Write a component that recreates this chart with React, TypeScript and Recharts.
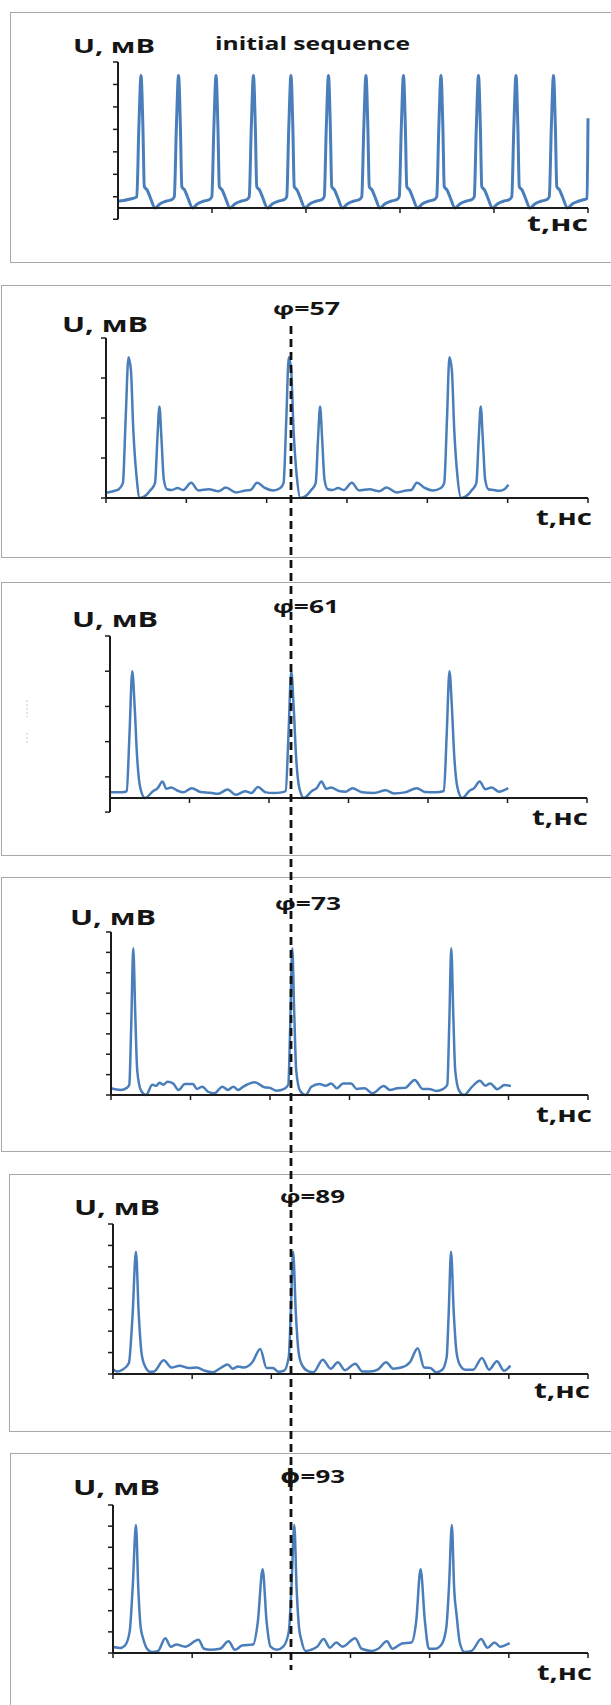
import React from 'react';
import { Line, LineChart, ReferenceLine, XAxis, YAxis } from 'recharts';

// initial sequence: t in axis units (5 ticks across), U in tick units
const initT = [
  0, 0.06, 0.13, 0.17,
  0.2, 0.222, 0.245, 0.265, 0.28, 0.31, 0.34, 0.395, 0.445, 0.51, 0.575,
  0.599, 0.621, 0.644, 0.664, 0.679, 0.709, 0.739, 0.794, 0.844, 0.909, 0.974,
  0.998, 1.02, 1.043, 1.063, 1.078, 1.108, 1.138, 1.193, 1.243, 1.308, 1.373,
  1.396, 1.418, 1.441, 1.461, 1.476, 1.506, 1.536, 1.591, 1.641, 1.706, 1.771,
  1.795, 1.817, 1.84, 1.86, 1.875, 1.905, 1.935, 1.99, 2.04, 2.105, 2.17,
  2.194, 2.216, 2.239, 2.259, 2.274, 2.304, 2.334, 2.389, 2.439, 2.504, 2.569,
  2.593, 2.615, 2.638, 2.658, 2.673, 2.703, 2.733, 2.788, 2.838, 2.903, 2.968,
  2.992, 3.014, 3.037, 3.057, 3.072, 3.102, 3.132, 3.187, 3.237, 3.302, 3.367,
  3.391, 3.413, 3.436, 3.456, 3.471, 3.501, 3.531, 3.586, 3.636, 3.701, 3.766,
  3.79, 3.812, 3.835, 3.855, 3.87, 3.9, 3.93, 3.985, 4.035, 4.1, 4.165,
  4.189, 4.211, 4.234, 4.254, 4.269, 4.299, 4.329, 4.384, 4.434, 4.499, 4.564,
  4.588, 4.61, 4.633, 4.653, 4.668, 4.698, 4.728, 4.783, 4.833, 4.898, 4.963,
  4.99, 5.0,
];
const initU = [
  0.3, 0.33, 0.4, 0.44,
  0.5, 3.6, 5.9, 3.6, 0.95, 0.8, 0.5, 0, 0.18, 0.3, 0.38,
  0.5, 3.6, 5.9, 3.6, 0.95, 0.8, 0.5, 0, 0.18, 0.3, 0.38,
  0.5, 3.6, 5.9, 3.6, 0.95, 0.8, 0.5, 0, 0.18, 0.3, 0.38,
  0.5, 3.6, 5.9, 3.6, 0.95, 0.8, 0.5, 0, 0.18, 0.3, 0.38,
  0.5, 3.6, 5.9, 3.6, 0.95, 0.8, 0.5, 0, 0.18, 0.3, 0.38,
  0.5, 3.6, 5.9, 3.6, 0.95, 0.8, 0.5, 0, 0.18, 0.3, 0.38,
  0.5, 3.6, 5.9, 3.6, 0.95, 0.8, 0.5, 0, 0.18, 0.3, 0.38,
  0.5, 3.6, 5.9, 3.6, 0.95, 0.8, 0.5, 0, 0.18, 0.3, 0.38,
  0.5, 3.6, 5.9, 3.6, 0.95, 0.8, 0.5, 0, 0.18, 0.3, 0.38,
  0.5, 3.6, 5.9, 3.6, 0.95, 0.8, 0.5, 0, 0.18, 0.3, 0.38,
  0.5, 3.6, 5.9, 3.6, 0.95, 0.8, 0.5, 0, 0.18, 0.3, 0.38,
  0.5, 3.6, 5.9, 3.6, 0.95, 0.8, 0.5, 0, 0.18, 0.3, 0.38,
  0.42, 4.0,
];

// φ=57
const t57 = [
  0, 0.09, 0.16, 0.21, 0.245, 0.28, 0.31, 0.34, 0.38, 0.42, 0.48, 0.56, 0.61, 0.64, 0.665, 0.69, 0.72, 0.76,
  0.82, 0.89, 0.96, 1.06, 1.15, 1.28, 1.4, 1.49, 1.62, 1.74, 1.8, 1.88, 1.98, 2.08, 2.17,
  2.21, 2.245, 2.275, 2.305, 2.335, 2.375, 2.42, 2.48, 2.56, 2.61, 2.64, 2.665, 2.69, 2.72, 2.76,
  2.82, 2.89, 2.96, 3.06, 3.15, 3.28, 3.4, 3.49, 3.62, 3.74, 3.8, 3.87, 3.97, 4.07, 4.17,
  4.21, 4.245, 4.275, 4.305, 4.335, 4.375, 4.42, 4.48, 4.56, 4.61, 4.64, 4.665, 4.69, 4.72, 4.76,
  4.82, 4.9, 4.96, 5.01,
];
const u57 = [
  0.13, 0.17, 0.22, 0.37, 2.0, 3.52, 3.2, 1.7, 0.54, 0, 0.04, 0.21, 0.37, 1.5, 2.29, 1.5, 0.46, 0.22,
  0.2, 0.25, 0.2, 0.38, 0.19, 0.22, 0.17, 0.26, 0.14, 0.19, 0.2, 0.38, 0.25, 0.19, 0.25,
  0.37, 2.0, 3.52, 3.2, 1.7, 0.54, 0, 0.04, 0.21, 0.37, 1.5, 2.29, 1.5, 0.46, 0.22,
  0.2, 0.25, 0.2, 0.38, 0.19, 0.22, 0.17, 0.26, 0.14, 0.19, 0.2, 0.38, 0.25, 0.19, 0.25,
  0.37, 2.0, 3.52, 3.2, 1.7, 0.54, 0, 0.04, 0.21, 0.37, 1.5, 2.29, 1.5, 0.46, 0.22,
  0.2, 0.18, 0.22, 0.33,
];

// φ=61
const t61 = [
  0, 0.1, 0.18, 0.21, 0.245, 0.28, 0.31, 0.34, 0.38, 0.44, 0.54, 0.6, 0.66, 0.71, 0.77, 0.84, 0.92,
  1.03, 1.14, 1.26, 1.36, 1.48, 1.58, 1.7, 1.78, 1.86, 1.96, 2.05, 2.16,
  2.21, 2.245, 2.28, 2.31, 2.34, 2.38, 2.44, 2.54, 2.6, 2.66, 2.72, 2.78, 2.88, 2.96,
  3.05, 3.17, 3.32, 3.47, 3.57, 3.71, 3.86, 3.96, 4.1,
  4.2, 4.235, 4.27, 4.3, 4.33, 4.37, 4.43, 4.52, 4.58, 4.65, 4.72, 4.8, 4.89, 5.01,
];
const u61 = [
  0.16, 0.16, 0.17, 0.2, 1.8, 3.6, 2.6, 1.2, 0.3, 0, 0.19, 0.28, 0.47, 0.26, 0.3, 0.22, 0.16,
  0.28, 0.17, 0.15, 0.12, 0.24, 0.09, 0.19, 0.14, 0.31, 0.16, 0.14, 0.16,
  0.2, 1.8, 3.6, 2.6, 1.2, 0.3, 0, 0.2, 0.28, 0.47, 0.26, 0.3, 0.2, 0.18,
  0.28, 0.16, 0.14, 0.22, 0.13, 0.16, 0.28, 0.17, 0.16,
  0.2, 1.8, 3.6, 2.6, 1.2, 0.3, 0, 0.2, 0.28, 0.47, 0.25, 0.3, 0.18, 0.28,
];

// φ=73
const t73 = [
  0, 0.12, 0.2, 0.23, 0.255, 0.28, 0.305, 0.33, 0.38, 0.44, 0.52, 0.57, 0.61, 0.66, 0.71, 0.78, 0.85, 0.93,
  1.03, 1.08, 1.15, 1.22, 1.3, 1.4, 1.47, 1.54, 1.6, 1.66, 1.81, 1.93, 2.0, 2.08, 2.18,
  2.23, 2.255, 2.28, 2.305, 2.33, 2.38, 2.45, 2.52, 2.62, 2.7, 2.77, 2.84, 2.92,
  3.02, 3.09, 3.19, 3.29, 3.43, 3.51, 3.6, 3.7, 3.82, 3.92, 4.0, 4.09, 4.18,
  4.23, 4.255, 4.28, 4.305, 4.33, 4.38, 4.44, 4.54, 4.64, 4.71, 4.77, 4.86, 4.95, 5.03,
];
const u73 = [
  0.33, 0.25, 0.35, 0.5, 3.5, 7.2, 4.0, 1.2, 0.2, 0, 0.5, 0.45, 0.6, 0.5, 0.65, 0.57, 0.25, 0.54,
  0.54, 0.3, 0.41, 0.16, 0.08, 0.41, 0.25, 0.41, 0.25, 0.4, 0.62, 0.38, 0.35, 0.21, 0.3,
  0.5, 3.5, 7.2, 4.0, 1.2, 0.2, 0, 0.4, 0.54, 0.45, 0.57, 0.33, 0.57,
  0.57, 0.3, 0.33, 0.08, 0.44, 0.25, 0.33, 0.35, 0.74, 0.3, 0.3, 0.2, 0.3,
  0.5, 3.5, 7.2, 4.0, 1.2, 0.2, 0, 0.4, 0.7, 0.45, 0.57, 0.28, 0.49, 0.44,
];

// φ=89
const t89 = [
  0, 0.05, 0.12, 0.2, 0.245, 0.29, 0.325, 0.36, 0.4, 0.47, 0.52, 0.64, 0.74, 0.84, 0.96,
  1.06, 1.16, 1.26, 1.36, 1.45, 1.51, 1.58, 1.65, 1.76, 1.86, 1.94, 2.02, 2.09, 2.16,
  2.22, 2.245, 2.275, 2.31, 2.345, 2.39, 2.47, 2.53, 2.65, 2.75, 2.84, 2.93,
  3.06, 3.15, 3.25, 3.35, 3.45, 3.54, 3.64, 3.75, 3.85, 3.93, 4.01, 4.08, 4.16,
  4.215, 4.24, 4.27, 4.305, 4.34, 4.385, 4.45, 4.55, 4.66, 4.75, 4.85, 4.94, 5.02,
];
const u89 = [
  0.23, 0.12, 0.2, 0.5, 2.6, 5.7, 2.8, 1.0, 0.4, 0.1, 0.12, 0.64, 0.3, 0.39, 0.28,
  0.3, 0.15, 0.08, 0.28, 0.44, 0.25, 0.35, 0.3, 0.55, 1.17, 0.28, 0.28, 0.1, 0.15,
  0.8, 2.8, 5.7, 2.8, 1.0, 0.4, 0.12, 0.08, 0.67, 0.25, 0.55, 0.18,
  0.48, 0.12, 0.12, 0.22, 0.55, 0.25, 0.3, 0.55, 1.2, 0.3, 0.28, 0.08, 0.2,
  0.8, 2.8, 5.7, 2.8, 1.0, 0.4, 0.2, 0.2, 0.75, 0.2, 0.59, 0.15, 0.39,
];

// φ=93
const t93 = [
  0, 0.09, 0.15, 0.21, 0.25, 0.29, 0.32, 0.35, 0.38, 0.43, 0.49, 0.57, 0.66, 0.73, 0.8, 0.91,
  1.08, 1.15, 1.23, 1.35, 1.46, 1.54, 1.63, 1.77, 1.83, 1.89, 1.94, 1.99, 2.07, 2.15,
  2.22, 2.255, 2.29, 2.32, 2.35, 2.38, 2.43, 2.5, 2.58, 2.66, 2.74, 2.82, 2.9,
  3.06, 3.14, 3.27, 3.35, 3.46, 3.53, 3.65, 3.77, 3.83, 3.885, 3.94, 3.99, 4.07, 4.15,
  4.21, 4.245, 4.28, 4.31, 4.34, 4.38, 4.44, 4.53, 4.65, 4.73, 4.82, 4.89, 5.01,
];
const u93 = [
  0.28, 0.24, 0.35, 1.0, 3.2, 6.05, 3.0, 1.2, 0.7, 0.2, 0.05, 0.1, 0.7, 0.3, 0.4, 0.3,
  0.63, 0.2, 0.15, 0.2, 0.55, 0.15, 0.35, 0.4, 1.5, 3.96, 1.5, 0.3, 0.15, 0.3,
  1.0, 3.2, 6.05, 3.0, 1.2, 0.6, 0.1, 0.15, 0.3, 0.66, 0.25, 0.5, 0.3,
  0.7, 0.2, 0.1, 0.2, 0.55, 0.2, 0.45, 0.5, 1.5, 3.96, 1.5, 0.2, 0.2, 0.4,
  1.2, 3.2, 6.05, 3.0, 1.8, 0.5, 0.05, 0.1, 0.66, 0.25, 0.5, 0.3, 0.47,
];

const xTicks5 = [0, 1, 2, 3, 4, 5];
const xTicks6 = [0, 1, 2, 3, 4, 5, 6];
const yTicksInit = [0.5, 1.5, 2.5, 3.5, 4.5, 5.5, 6.5];
const yTicks57 = [0, 1, 2, 3, 4];
const yTicks61 = [0.6, 1.6, 2.6, 3.6, 4.6];
const yTicks73 = [0, 1, 2, 3, 4, 5, 6, 7, 8];
const yTicks89 = [0, 1, 2, 3, 4, 5, 6, 7];
const yTicks93 = [0, 1, 2, 3, 4, 5, 6, 7];

const yTitle = 'U, мВ';
const xTitle = 't,нс';
const topTitle = 'initial sequence';
const phiLabels = ['φ=57', 'φ=61', 'φ=73', 'φ=89', 'ϕ=93'];

const AXIS = '#1c1c1c';
const LINE = '#4a7ebb';
const FRAME = '#a8a8a8';
const FONT = "'Open Sans', 'DejaVu Sans', sans-serif";

const rows = (t: number[], u: number[]) => t.map((x, i) => ({ t: x, u: u[i] }));

// axis ticks have no labels, only the tick marks
const NoLabel = () => <g />;

interface Plot {
  left: number;
  right: number;
  top: number;
  bottom: number;
}

interface PanelProps {
  data: { t: number; u: number }[];
  plot: Plot;
  xMax: number;
  xTicks: number[];
  yMax: number;
  yTicks: number[];
  ext?: number;
  lineWidth?: number;
}

const Panel = ({ data, plot, xMax, xTicks, yMax, yTicks, ext, lineWidth = 2.5 }: PanelProps) => {
  const h = plot.bottom - plot.top + 60;
  // 5px tick length expressed in x units
  const tickX = (5 * xMax) / (plot.right - plot.left);
  return (
    <div style={{ position: 'absolute', left: 0, top: plot.top - 20 }}>
      <LineChart
        width={611}
        height={h}
        data={data}
        margin={{ top: 20, right: 611 - plot.right, bottom: 20, left: plot.left - 20 }}
      >
        <XAxis
          type="number"
          dataKey="t"
          domain={[0, xMax]}
          ticks={xTicks}
          interval={0}
          tick={NoLabel}
          height={20}
          tickSize={5}
          axisLine={{ stroke: AXIS, strokeWidth: 2 }}
          tickLine={{ stroke: AXIS, strokeWidth: 1.5 }}
        />
        <YAxis
          type="number"
          domain={[0, yMax]}
          ticks={yTicks}
          interval={0}
          tick={NoLabel}
          width={20}
          tickSize={5}
          axisLine={{ stroke: AXIS, strokeWidth: 2 }}
          tickLine={{ stroke: AXIS, strokeWidth: 1.5 }}
        />
        {ext !== undefined && (
          <ReferenceLine
            segment={[{ x: 0, y: 0 }, { x: 0, y: ext }]}
            stroke={AXIS}
            strokeWidth={2}
            ifOverflow="visible"
          />
        )}
        {ext !== undefined && (
          <ReferenceLine
            segment={[{ x: -tickX, y: ext }, { x: 0, y: ext }]}
            stroke={AXIS}
            strokeWidth={1.5}
            ifOverflow="visible"
          />
        )}
        <Line
          type="monotone"
          dataKey="u"
          stroke={LINE}
          strokeWidth={lineWidth}
          dot={false}
          activeDot={false}
          isAnimationActive={false}
        />
      </LineChart>
    </div>
  );
};

const frames = [
  { left: 10, top: 12, bottom: 263 },
  { left: 1, top: 285, bottom: 558 },
  { left: 1, top: 582, bottom: 856 },
  { left: 1, top: 877, bottom: 1152 },
  { left: 9, top: 1174, bottom: 1432 },
  { left: 10, top: 1453, bottom: 1760 },
];

const Label = ({ x, y, w, size, children }: { x: number; y: number; w: number; size: number; children: string }) => (
  <text
    x={x}
    y={y}
    fontSize={size}
    fontWeight={700}
    fontFamily={FONT}
    fill="#151515"
    textLength={w}
    lengthAdjust="spacingAndGlyphs"
  >
    {children}
  </text>
);

const App = () => {
  return (
    <div
      style={{
        position: 'absolute',
        left: 0,
        top: 0,
        width: 611,
        height: 1705,
        overflow: 'hidden',
        background: '#fff',
      }}
    >
      {frames.map((f, i) => (
        <div
          key={i}
          style={{
            position: 'absolute',
            left: f.left,
            top: f.top,
            width: 660 - f.left,
            height: f.bottom - f.top,
            border: `1.5px solid ${FRAME}`,
            boxSizing: 'border-box',
          }}
        />
      ))}

      <Panel
        data={rows(initT, initU)}
        plot={{ left: 118, right: 588, top: 62, bottom: 208 }}
        xMax={5}
        xTicks={xTicks5}
        yMax={6.5}
        yTicks={yTicksInit}
        ext={-0.5}
        lineWidth={3}
      />
      <Panel
        data={rows(t57, u57)}
        plot={{ left: 106, right: 588, top: 338, bottom: 498 }}
        xMax={6}
        xTicks={xTicks6}
        yMax={4}
        yTicks={yTicks57}
      />
      <Panel
        data={rows(t61, u61)}
        plot={{ left: 110, right: 587, top: 636, bottom: 798 }}
        xMax={6}
        xTicks={xTicks6}
        yMax={4.6}
        yTicks={yTicks61}
        ext={-0.4}
      />
      <Panel
        data={rows(t73, u73)}
        plot={{ left: 111, right: 588, top: 932, bottom: 1095 }}
        xMax={6}
        xTicks={xTicks6}
        yMax={8}
        yTicks={yTicks73}
      />
      <Panel
        data={rows(t89, u89)}
        plot={{ left: 113, right: 588, top: 1224, bottom: 1374 }}
        xMax={6}
        xTicks={xTicks6}
        yMax={7}
        yTicks={yTicks89}
      />
      <Panel
        data={rows(t93, u93)}
        plot={{ left: 113, right: 588, top: 1505, bottom: 1653 }}
        xMax={6}
        xTicks={xTicks6}
        yMax={7}
        yTicks={yTicks93}
      />

      <svg
        width={611}
        height={1705}
        style={{ position: 'absolute', left: 0, top: 0, pointerEvents: 'none' }}
      >
        <Label x={73} y={53} w={82} size={20}>{yTitle}</Label>
        <Label x={215} y={50} w={195} size={17}>{topTitle}</Label>
        <Label x={527} y={231} w={61} size={21}>{xTitle}</Label>

        <Label x={62} y={332} w={86} size={22}>{yTitle}</Label>
        <Label x={273} y={315} w={67} size={18.5}>{phiLabels[0]}</Label>
        <Label x={536} y={525} w={56} size={21}>{xTitle}</Label>

        <Label x={72} y={627} w={86} size={22}>{yTitle}</Label>
        <Label x={273} y={613} w={66} size={18.5}>{phiLabels[1]}</Label>
        <Label x={532} y={825} w={56} size={21}>{xTitle}</Label>

        <Label x={70} y={925} w={86} size={22}>{yTitle}</Label>
        <Label x={275} y={910} w={66} size={18.5}>{phiLabels[2]}</Label>
        <Label x={536} y={1122} w={56} size={21}>{xTitle}</Label>

        <Label x={74} y={1215} w={86} size={22}>{yTitle}</Label>
        <Label x={280} y={1203} w={65} size={18.5}>{phiLabels[3]}</Label>
        <Label x={534} y={1398} w={56} size={21}>{xTitle}</Label>

        <Label x={73} y={1495} w={87} size={22}>{yTitle}</Label>
        <Label x={280} y={1483} w={65} size={18.5}>{phiLabels[4]}</Label>
        <Label x={537} y={1680} w={55} size={21}>{xTitle}</Label>

        {/* faint marks at the left of the φ=61 frame */}
        <line x1={27} y1={700} x2={27} y2={717} stroke="#c8c8c8" strokeWidth={1} strokeDasharray="2 2" />
        <line x1={27} y1={733} x2={27} y2={743} stroke="#c8c8c8" strokeWidth={1} strokeDasharray="2 2" />

        {/* phase marker across the shifted sequences */}
        <line x1={291} y1={326} x2={291} y2={1670} stroke="#111" strokeWidth={2.8} strokeDasharray="8 5" />
      </svg>
    </div>
  );
};

export default App;
